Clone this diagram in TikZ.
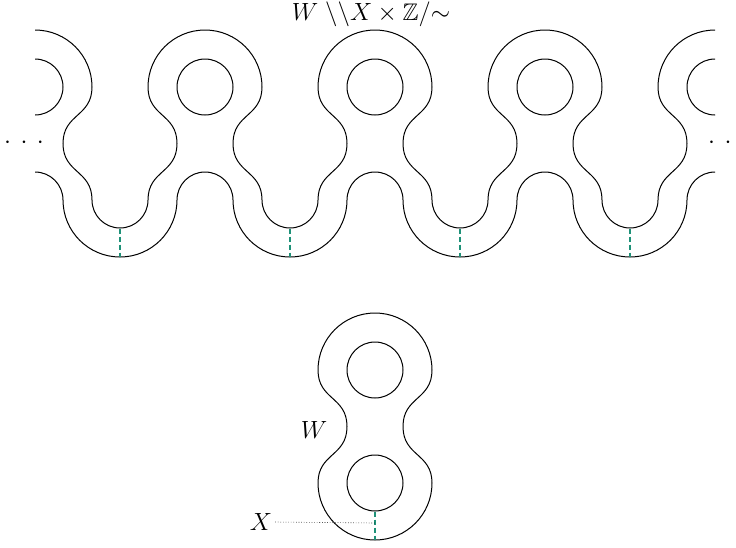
\documentclass[tikz,border=0pt]{standalone}
\usepackage{amssymb}
\definecolor{cutgreen}{RGB}{30,145,120}
\tikzset{
  surf/.style={line width=1pt, black},
  cutline/.style={cutgreen, line width=1.2pt, dash pattern=on 5pt off 3pt},
  pointer/.style={black, line width=0.6pt, dotted},
  titlelbl/.style={font=\fontsize{24}{28}\selectfont, inner sep=0pt},
  lbl/.style={font=\fontsize{23}{26}\selectfont, inner sep=0pt},
  biglbl/.style={font=\fontsize{25}{28}\selectfont, inner sep=0pt},
  dotslbl/.style={font=\fontsize{24}{24}\selectfont, inner sep=0pt}
}
\begin{document}
\begin{tikzpicture}[x=1pt,y=-1pt]
\useasboundingbox (0,0) rectangle (736,547);

% ---------- title ----------
\node[titlelbl, anchor=base] (title) at (371,20) {$W\;\backslash\backslash X \times \mathbb{Z}/{\sim}$};

% ---------- infinite chain ----------
\begin{scope}
  \clip (35,0) rectangle (715,300);
  % upper boundary
  \draw[surf] (-192,87)
    \foreach \c in {-135,35,205,375,545,715} {
      arc[start angle=180, end angle=360, radius=57]
      .. controls ({\c+57},117) and ({\c+28},113.5) .. ({\c+28},143.5)
      .. controls ({\c+28},173.5) and ({\c+57},170) .. ({\c+57},200)
      arc[start angle=180, end angle=0, radius=28]
      .. controls ({\c+113},170) and ({\c+142},173.5) .. ({\c+142},143.5)
      .. controls ({\c+142},113.5) and ({\c+113},117) .. ({\c+113},87)
    };
  % lower boundary
  \draw[surf] (-163,200)
    \foreach \c in {-135,35,205,375,545,715} {
      arc[start angle=180, end angle=360, radius=28]
      arc[start angle=180, end angle=0, radius=57]
    };
  % holes
  \foreach \c in {35,205,375,545,715} {
    \draw[surf] (\c,87) circle[radius=28];
  }
\end{scope}
% cuts in the chain
\foreach \c in {120,290,460,630} {
  \draw[cutline] (\c,228.5) -- (\c,257);
}
% dots
\node[dotslbl] (ldots) at (24,143) {$\cdotp\hspace{5.3pt}\cdotp\hspace{5.3pt}\cdotp$};
\node[dotslbl] (rdots) at (728,143) {$\cdotp\hspace{5.3pt}\cdotp\hspace{5.3pt}\cdotp$};

% ---------- fundamental domain W ----------
\draw[surf] (432,370)
  .. controls (432,400) and (403,396.5) .. (403,426.5)
  .. controls (403,456.5) and (432,453) .. (432,483)
  arc[start angle=0, end angle=180, radius=57]
  .. controls (318,453) and (347,456.5) .. (347,426.5)
  .. controls (347,396.5) and (318,400) .. (318,370)
  arc[start angle=180, end angle=360, radius=57] -- cycle;
\draw[surf] (375,370) circle[radius=28];
\draw[surf] (375,483) circle[radius=28];
\draw[cutline] (375,511.5) -- (375,540);
\coordinate (xend) at (375,523);
\node[biglbl] (Wlbl) at (314,430) {$W$};
\node[lbl] (Xlbl) at (261,522) {$X$};
\draw[pointer] (Xlbl.east) ++(3,0) -- (xend);
\end{tikzpicture}
\end{document}
